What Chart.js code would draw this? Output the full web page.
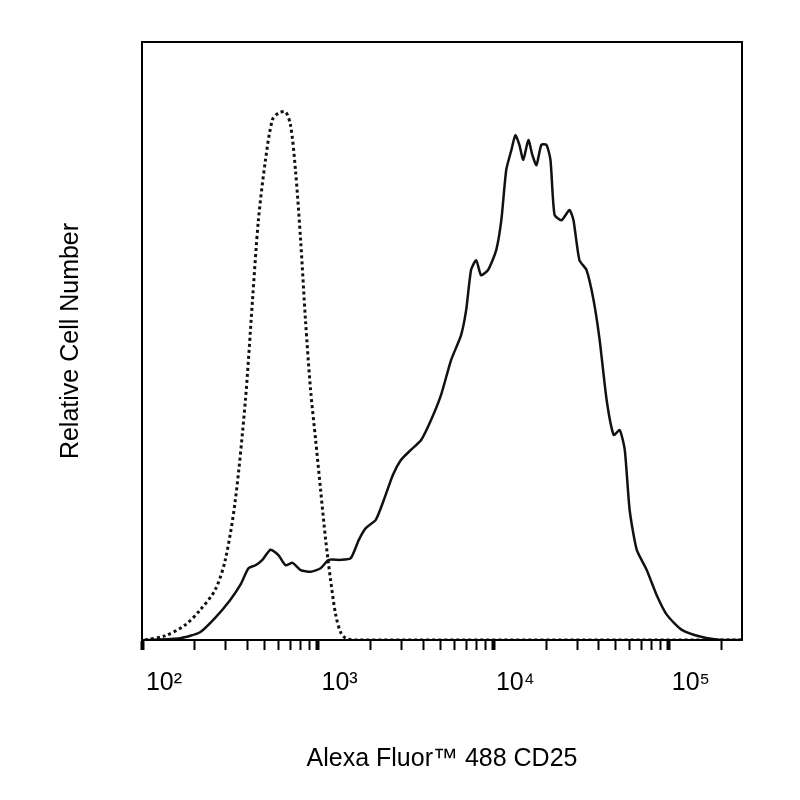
<!DOCTYPE html>
<html><head><meta charset="utf-8">
<script src="https://cdn.jsdelivr.net/npm/chart.js@4/dist/chart.umd.min.js"></script>
<style>html,body{margin:0;background:#fff}#w{width:800px;height:800px}</style>
</head><body><div id="w"><canvas id="c"></canvas></div>
<script>
const isotypeX=[104,135,176,214,261,298,340,388,426,460,505,553,598,656,701,748,800,853,912,975,1040,1112,1186,1268,1352,1445,1648,261000];
const isotypeY=[0,0.7,2.5,5.0,8.4,13.4,23.4,40.1,56.9,70.2,80.3,87.0,88.1,88.3,86.1,78.6,66.9,53.5,41.8,33.4,25.1,16.7,10.0,4.2,1.3,0.3,0,0];
const cd25X=[104,165,214,261,318,363,404,443,485,539,598,656,720,800,912,1040,1156,1352,1545,1714,1880,2144,2382,2683,2981,3398,3878,4426,5047,5754,6561,7015,7482,8000,8531,9354,10400,11120,11860,12680,13370,14090,14830,15850,16710,17620,18790,20090,21180,22340,24490,27180,28640,30970,33960,37240,40360,44260,48530,52480,56100,59840,65610,74820,85310,97500,118600,154500,200900,261000];
const cd25Y=[0,0.3,1.3,3.7,6.7,9.2,12.0,12.5,13.4,15.1,14.2,12.5,12.9,11.7,11.4,12.0,13.4,13.4,13.7,16.7,18.7,20.1,23.4,27.6,30.1,31.8,33.4,36.8,41.0,46.8,51.0,55.2,61.9,63.5,61.0,61.9,65.2,70.2,78.6,81.9,84.4,82.8,80.3,83.6,81.1,79.4,82.8,82.8,80.3,71.1,70.2,71.9,70.2,63.5,61.9,56.9,50.2,40.1,34.3,35.1,31.8,21.7,15.1,11.7,7.5,4.2,1.7,0.5,0,0];
const tickLabels={2:'10²',3:'10³',4:'10⁴',5:'10⁵'};
const pts=(xs,ys)=>xs.map((x,i)=>({x,y:ys[i]}));
const isMajor=v=>Math.abs(Math.log10(v)-Math.round(Math.log10(v)))<1e-9;
new Chart(document.getElementById('c'),{
 type:'line',
 data:{datasets:[
  {data:pts(isotypeX,isotypeY),borderColor:'#111',borderWidth:3,borderDash:[3,3],pointRadius:0,tension:0.3},
  {data:pts(cd25X,cd25Y),borderColor:'#111',borderWidth:2.5,pointRadius:0,tension:0.2}
 ]},
 options:{responsive:true,maintainAspectRatio:false,animation:false,
  layout:{padding:{left:52,right:58,top:42,bottom:22}},
  plugins:{legend:{display:false},tooltip:{enabled:false}},
  scales:{
   x:{type:'logarithmic',min:100,max:261000,
     border:{display:true,color:'#000',width:2},
     grid:{drawOnChartArea:false,color:'#000',tickLength:10,
       tickWidth:c=>isMajor(c.tick.value)?4:2},
     afterBuildTicks:a=>{const t=[];for(let d=2;d<=5;d++)for(let k=1;k<=9;k++){const v=k*Math.pow(10,d);if(v<=261000)t.push({value:v});}a.ticks=t;},
     ticks:{autoSkip:false,maxRotation:0,color:'#000',padding:18,labelOffset:22,font:{family:'Liberation Sans',size:25},
       callback:v=>isMajor(v)?tickLabels[Math.round(Math.log10(v))]:''},
     title:{display:true,text:'Alexa Fluor™ 488 CD25',color:'#000',font:{family:'Liberation Sans',size:25},padding:{top:28}}
   },
   y:{min:0,max:100,
     border:{display:true,color:'#000',width:2},
     grid:{display:false},
     ticks:{display:false},
     afterFit:s=>{s.width=90;},
     title:{display:true,text:'Relative Cell Number',color:'#000',font:{family:'Liberation Sans',size:25},padding:{bottom:0}}
   }
  }
 },
 plugins:[{id:'box',afterDraw(ch){const a=ch.chartArea,g=ch.ctx;g.save();g.strokeStyle='#000';g.lineWidth=2;g.strokeRect(a.left,a.top,a.right-a.left,a.bottom-a.top);g.restore();}}]
});
</script></body></html>
